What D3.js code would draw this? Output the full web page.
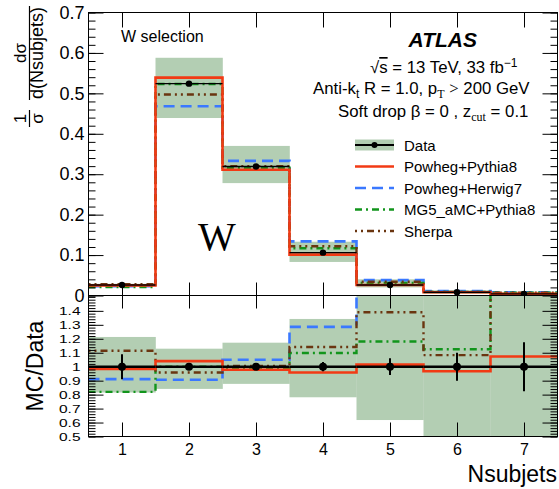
<!DOCTYPE html>
<html>
<head>
<meta charset="utf-8">
<script src="https://cdn.jsdelivr.net/npm/d3@7"></script>
<style>
  body { margin: 0; background: #fff; }
  svg { display: block; }
  text { font-family: "Liberation Sans", Arial, Helvetica, sans-serif; fill: #000; }
  .serif { font-family: "Liberation Serif", "Times New Roman", serif; }
</style>
</head>
<body>
<svg id="chart" width="559" height="489"></svg>
<script>
// Nsubjets bins
const bins = [1, 2, 3, 4, 5, 6, 7];

// Normalised distribution (1/sigma dsigma/dNsubjets)
const dataVals   = [0.026, 0.524, 0.319, 0.106, 0.026, 0.008, 0.004];
const dataErr    = [0.002, 0.006, 0.004, 0.003, 0.002, 0.001, 0.001];
const bandLo     = [0.022, 0.439, 0.278, 0.083, 0.020, 0.004, 0.000];
const bandHi     = [0.029, 0.588, 0.370, 0.133, 0.040, 0.013, 0.009];
const powPy8     = [0.025, 0.539, 0.311, 0.101, 0.026, 0.008, 0.004];
const powHw7     = [0.023, 0.468, 0.333, 0.134, 0.038, 0.011, 0.008];
const mg5Py8     = [0.021, 0.523, 0.316, 0.117, 0.031, 0.009, 0.007];
const sherpa     = [0.028, 0.497, 0.320, 0.122, 0.034, 0.009, 0.007];

// MC / Data ratios
const ratioDataErr = [0.09, 0.015, 0.015, 0.033, 0.06, 0.10, 0.175];
const ratioBandLo  = [0.815, 0.841, 0.877, 0.781, 0.618, 0.30, 0.20];
const ratioBandHi  = [1.213, 1.129, 1.172, 1.342, 1.60, 1.70, 1.80];
const rPowPy8      = [0.983, 1.040, 0.978, 0.958, 1.015, 0.967, 1.073];
const rPowHw7      = [0.911, 0.906, 1.050, 1.285, 1.60, 1.70, 1.90];
const rMg5Py8      = [0.820, 1.000, 0.990, 1.098, 1.180, 1.125, 1.65];
const rSherpa      = [1.114, 0.958, 1.006, 1.141, 1.390, 1.083, 1.75];

// Tick labels
const topTicks   = [0, 0.1, 0.2, 0.3, 0.4, 0.5, 0.6, 0.7];
const ratioTicks = [0.5, 0.6, 0.7, 0.8, 0.9, 1, 1.1, 1.2, 1.3, 1.4];

const series = [
  { name: "Powheg+Herwig7",  top: powHw7, ratio: rPowHw7, color: "#3a78ff", width: 2.6, dash: "11,6" },
  { name: "MG5_aMC+Pythia8", top: mg5Py8, ratio: rMg5Py8, color: "#12951c", width: 2.4, dash: "7,4,2,4" },
  { name: "Sherpa",          top: sherpa, ratio: rSherpa, color: "#6a3510", width: 2.4, dash: "2,4,2,4,7,4" },
  { name: "Powheg+Pythia8",  top: powPy8, ratio: rPowPy8, color: "#f23a14", width: 2.6, dash: null }
];
const legendOrder = ["Powheg+Pythia8", "Powheg+Herwig7", "MG5_aMC+Pythia8", "Sherpa"];
const bandColor = "#b3ceb3";

const svg = d3.select("#chart");
const L = 88.5, R = 557.5, T = 12.5, MID = 295.5, B = 436.5;

const x = d3.scaleLinear().domain([0.5, 7.5]).range([L, R]);
const yTop = d3.scaleLinear().domain([0, 0.7]).range([MID, T]);
const yRat = d3.scaleLinear().domain([0.5, 1.51]).range([B, MID]);

const defs = svg.append("defs");
defs.append("clipPath").attr("id", "clipTop")
  .append("rect").attr("x", L).attr("y", T).attr("width", R - L).attr("height", MID - T);
defs.append("clipPath").attr("id", "clipRat")
  .append("rect").attr("x", L).attr("y", MID).attr("width", R - L).attr("height", B - MID);

// step outline through the bin edges
function stepPoints(vals) {
  const pts = [];
  vals.forEach((v, i) => { pts.push([bins[i] - 0.5, v]); pts.push([bins[i] + 0.5, v]); });
  return pts;
}

function drawPanel(clipId, y, vals) {
  const g = svg.append("g").attr("clip-path", `url(#${clipId})`);
  // uncertainty band
  g.selectAll("rect.band").data(bins).join("rect")
    .attr("class", "band")
    .attr("x", d => x(d - 0.5))
    .attr("width", d => x(d + 0.5) - x(d - 0.5) + 0.3)
    .attr("y", (d, i) => y(vals.hi[i]))
    .attr("height", (d, i) => y(vals.lo[i]) - y(vals.hi[i]))
    .attr("fill", bandColor);
  // MC predictions
  const line = d3.line().x(p => x(p[0])).y(p => y(p[1]));
  series.forEach(s => {
    g.append("path")
      .attr("d", line(stepPoints(vals.mc(s))))
      .attr("fill", "none")
      .attr("stroke", s.color)
      .attr("stroke-width", s.width)
      .attr("stroke-dasharray", s.dash);
  });
  // data
  g.selectAll("line.dh").data(bins).join("line")
    .attr("class", "dh")
    .attr("x1", d => x(d - 0.5)).attr("x2", d => x(d + 0.5))
    .attr("y1", (d, i) => y(vals.data[i])).attr("y2", (d, i) => y(vals.data[i]))
    .attr("stroke", "#000").attr("stroke-width", vals.lineW);
  g.selectAll("line.de").data(bins).join("line")
    .attr("class", "de")
    .attr("x1", d => x(d)).attr("x2", d => x(d))
    .attr("y1", (d, i) => y(vals.data[i] - vals.err[i]))
    .attr("y2", (d, i) => y(vals.data[i] + vals.err[i]))
    .attr("stroke", "#000").attr("stroke-width", 2);
  g.selectAll("circle.dp").data(bins).join("circle")
    .attr("class", "dp")
    .attr("cx", d => x(d)).attr("cy", (d, i) => y(vals.data[i]))
    .attr("r", vals.r).attr("fill", "#000");
}

drawPanel("clipTop", yTop, {
  lo: bandLo, hi: bandHi, data: dataVals, err: dataErr,
  mc: s => s.top, lineW: 1.4, r: 3.2
});
drawPanel("clipRat", yRat, {
  lo: ratioBandLo, hi: ratioBandHi, data: bins.map(() => 1), err: ratioDataErr,
  mc: s => s.ratio, lineW: 2.4, r: 4
});

// axes
function minorSteps(lo, hi, step) {
  const out = [];
  for (let v = lo; v <= hi + 1e-9; v += step) out.push(+v.toFixed(4));
  return out;
}
function styleAxis(g) {
  g.select(".domain").remove();
  g.selectAll(".tick line").attr("stroke", "#000").attr("stroke-width", 1);
}

// top panel y axes
svg.append("g").attr("transform", `translate(${L},0)`)
  .call(d3.axisLeft(yTop).tickValues(minorSteps(0, 0.7, 0.02)).tickSize(-7).tickFormat(""))
  .call(styleAxis);
svg.append("g").attr("transform", `translate(${L},0)`)
  .call(d3.axisLeft(yTop).tickValues(topTicks).tickSize(-15).tickPadding(4)
    .tickFormat(d => d === 0 ? "0" : d3.format(".1f")(d)))
  .call(styleAxis)
  .call(g => g.selectAll("text").attr("font-size", 18).attr("font-family", "Liberation Sans"));
svg.append("g").attr("transform", `translate(${R},0)`)
  .call(d3.axisRight(yTop).tickValues(minorSteps(0, 0.7, 0.02)).tickSize(-7).tickFormat(""))
  .call(styleAxis);
svg.append("g").attr("transform", `translate(${R},0)`)
  .call(d3.axisRight(yTop).tickValues(topTicks).tickSize(-15).tickFormat(""))
  .call(styleAxis);

// ratio panel y axes (labels set in a vertically condensed face)
svg.append("g").attr("transform", `translate(${L},0)`)
  .call(d3.axisLeft(yRat).tickValues(minorSteps(0.5, 1.5, 0.02)).tickSize(-7).tickFormat(""))
  .call(styleAxis);
svg.append("g").attr("transform", `translate(${L},0)`)
  .call(d3.axisLeft(yRat).tickValues(ratioTicks).tickSize(-15).tickPadding(8)
    .tickFormat(d => d === 1 ? "1" : d3.format(".1f")(d)))
  .call(styleAxis)
  .call(g => g.selectAll("text")
    .attr("font-size", 15.5).attr("font-family", "Liberation Sans")
    .attr("transform", "scale(1,0.76)"));
svg.append("g").attr("transform", `translate(${R},0)`)
  .call(d3.axisRight(yRat).tickValues(minorSteps(0.5, 1.5, 0.02)).tickSize(-7).tickFormat(""))
  .call(styleAxis);
svg.append("g").attr("transform", `translate(${R},0)`)
  .call(d3.axisRight(yRat).tickValues(ratioTicks).tickSize(-15).tickFormat(""))
  .call(styleAxis);

// x axes
svg.append("g").attr("transform", `translate(0,${T})`)
  .call(d3.axisTop(x).tickValues(bins).tickSize(-15).tickFormat("")).call(styleAxis);
svg.append("g").attr("transform", `translate(0,${MID})`)
  .call(d3.axisBottom(x).tickValues(bins).tickSize(-13).tickFormat("")).call(styleAxis);
svg.append("g").attr("transform", `translate(0,${MID})`)
  .call(d3.axisTop(x).tickValues(bins).tickSize(-13).tickFormat("")).call(styleAxis);
svg.append("g").attr("transform", `translate(0,${B})`)
  .call(d3.axisBottom(x).tickValues(bins).tickSize(-14).tickPadding(7).tickFormat(d3.format("d")))
  .call(styleAxis)
  .call(g => g.selectAll("text").attr("font-size", 16).attr("font-family", "Liberation Sans"));

// frames
svg.append("rect").attr("x", L).attr("y", T).attr("width", R - L).attr("height", MID - T)
  .attr("fill", "none").attr("stroke", "#000").attr("stroke-width", 1);
svg.append("rect").attr("x", L).attr("y", MID).attr("width", R - L).attr("height", B - MID)
  .attr("fill", "none").attr("stroke", "#000").attr("stroke-width", 1);

// axis titles
svg.append("text").attr("x", 557).attr("y", 482).attr("text-anchor", "end")
  .attr("font-size", 23).text("Nsubjets");
svg.append("text").attr("transform", "translate(43,366) rotate(-90)").attr("text-anchor", "middle")
  .attr("font-size", 23).text("MC/Data");

const yt = svg.append("g").attr("transform", "translate(29.5,0) rotate(-90)");
yt.append("line").attr("x1", -127).attr("x2", -110).attr("y1", 0).attr("y2", 0).attr("stroke", "#000").attr("stroke-width", 1.2);
yt.append("text").attr("x", -118.5).attr("y", -4).attr("text-anchor", "middle").attr("font-size", 17).text("1");
yt.append("text").attr("x", -118.5).attr("y", 13).attr("text-anchor", "middle").attr("font-size", 17).text("σ");
yt.append("line").attr("x1", -100).attr("x2", -6).attr("y1", 0).attr("y2", 0).attr("stroke", "#000").attr("stroke-width", 1.2);
yt.append("text").attr("x", -53).attr("y", -4).attr("text-anchor", "middle").attr("font-size", 17).text("dσ");
yt.append("text").attr("x", -53).attr("y", 13).attr("text-anchor", "middle").attr("font-size", 18).text("d(Nsubjets)");

// labels inside the plot
svg.append("text").attr("x", 121).attr("y", 42).attr("font-size", 16).text("W selection");
svg.append("text").attr("x", 477).attr("y", 47).attr("text-anchor", "end")
  .attr("font-size", 21).attr("font-weight", "bold").attr("font-style", "italic").text("ATLAS");

const t1 = svg.append("text").attr("x", 370).attr("y", 73).attr("font-size", 16.8);
t1.append("tspan").text("√");
t1.append("tspan").attr("text-decoration", "overline").text("s");
t1.append("tspan").text(" = 13 TeV, 33 fb");
t1.append("tspan").attr("dy", -6).attr("font-size", 12).text("−1");

const t2 = svg.append("text").attr("x", 313).attr("y", 94).attr("font-size", 16.8);
t2.append("tspan").text("Anti-k");
t2.append("tspan").attr("dy", 4).attr("font-size", 12).text("t");
t2.append("tspan").attr("dy", -4).text(" R = 1.0, p");
t2.append("tspan").attr("dy", 4).attr("font-size", 12).attr("class", "serif").text("T");
t2.append("tspan").attr("dy", -4).text(" ");
t2.append("tspan").attr("class", "serif").text(">");
t2.append("tspan").text(" 200 GeV");

const t3 = svg.append("text").attr("x", 338).attr("y", 117).attr("font-size", 16.8);
t3.append("tspan").text("Soft drop β = 0 , z");
t3.append("tspan").attr("dy", 4).attr("font-size", 12).attr("class", "serif").text("cut");
t3.append("tspan").attr("dy", -4).text(" = 0.1");

svg.append("text").attr("class", "serif").attr("x", 217).attr("y", 250).attr("text-anchor", "middle")
  .attr("font-size", 40).text("W");

// legend
const lx0 = 355, lx1 = 394, ltx = 404;
const rowY = [145, 166.5, 188, 209.5, 231];
const lg = svg.append("g");
lg.append("rect").attr("x", lx0).attr("y", rowY[0] - 5.5).attr("width", lx1 - lx0).attr("height", 11).attr("fill", bandColor);
lg.append("line").attr("x1", lx0).attr("x2", lx1).attr("y1", rowY[0]).attr("y2", rowY[0]).attr("stroke", "#000").attr("stroke-width", 2);
lg.append("circle").attr("cx", (lx0 + lx1) / 2).attr("cy", rowY[0]).attr("r", 3).attr("fill", "#000");
lg.append("text").attr("x", ltx).attr("y", rowY[0] + 5.5).attr("font-size", 15).text("Data");
legendOrder.forEach((name, i) => {
  const s = series.find(d => d.name === name);
  const yy = rowY[i + 1];
  lg.append("line").attr("x1", lx0).attr("x2", lx1).attr("y1", yy).attr("y2", yy)
    .attr("stroke", s.color).attr("stroke-width", s.width).attr("stroke-dasharray", s.dash);
  lg.append("text").attr("x", ltx).attr("y", yy + 5.5).attr("font-size", 15).text(name);
});
</script>
</body>
</html>
